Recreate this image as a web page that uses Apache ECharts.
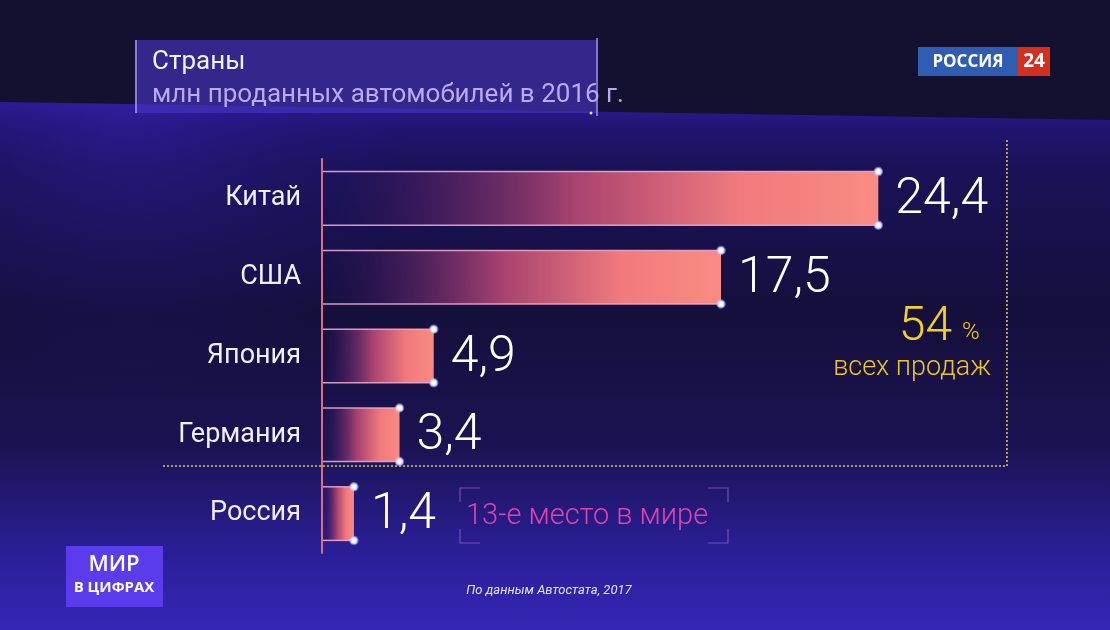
<!DOCTYPE html>
<html>
<head>
<meta charset="utf-8">
<script src="https://cdn.jsdelivr.net/npm/echarts@6/dist/echarts.min.js"></script>
<style>
html,body{margin:0;padding:0;background:#131030;}
#chart{width:1110px;height:630px;}
</style>
</head>
<body>
<div id="chart"></div>
<script>
// ---- data ----
var categories = ['Китай', 'США', 'Япония', 'Германия', 'Россия'];
var sales = [24.4, 17.5, 4.9, 3.4, 1.4];
var titleText = 'Страны';
var subtitleText = 'млн проданных автомобилей в 2016 г.';
var shareValue = '54';
var shareUnit = '%';
var shareCaption = 'всех продаж';
var russiaNote = '13-е место в мире';
var sourceText = 'По данным Автостата, 2017';

function fmt(v) { return v.toFixed(1).replace('.', ','); }

var FONT = 'Roboto, "Noto Sans", sans-serif';
var chart = echarts.init(document.getElementById('chart'));

function corner(x, y, dx, dy) {
  return {
    type: 'polyline', z: 5,
    shape: { points: [[x + dx, y], [x, y], [x, y + dy]] },
    style: { stroke: 'rgba(140,90,190,0.8)', lineWidth: 1.2, fill: null }
  };
}

var bandPts = [[0, 102], [1110, 120], [1110, 630], [0, 630]];

var option = {
  backgroundColor: '#131030',
  animation: false,
  grid: { left: 322, top: 159, width: 684, height: 394, containLabel: false },
  xAxis: { type: 'value', min: 0, max: 30, show: false },
  yAxis: {
    type: 'category', data: categories, inverse: true,
    axisLine: { show: true, lineStyle: { color: '#d8707c', width: 2 } },
    axisTick: { show: false },
    splitLine: { show: false },
    axisLabel: { color: '#f1edfc', fontSize: 27, fontFamily: FONT, margin: 21 }
  },
  graphic: { elements: [
    // background
    { type: 'polygon', z: -10, silent: true,
      shape: { points: bandPts },
      style: { fill: { type: 'linear', x: 0, y: 0, x2: 0, y2: 1, colorStops: [
        { offset: 0, color: '#2c1c94' },
        { offset: 0.05, color: '#1f1470' },
        { offset: 0.12, color: '#1a1258' },
        { offset: 0.4, color: '#150f3c' },
        { offset: 0.65, color: '#1a1352' },
        { offset: 0.85, color: '#2a1e96' },
        { offset: 1, color: '#3427b6' }
      ] } } },
    { type: 'polygon', z: -9, silent: true,
      shape: { points: bandPts },
      style: { fill: { type: 'radial', x: 0.12, y: 0.0, r: 0.55, colorStops: [
        { offset: 0, color: 'rgba(52,32,170,0.55)' },
        { offset: 0.6, color: 'rgba(40,25,140,0.2)' },
        { offset: 1, color: 'rgba(40,25,140,0)' }
      ] } } },
    // title box
    { type: 'rect', z: 1, shape: { x: 135, y: 40, width: 463, height: 73 },
      style: { fill: 'rgba(72,52,196,0.62)' } },
    { type: 'line', z: 2, shape: { x1: 136, y1: 40, x2: 136, y2: 113 },
      style: { stroke: '#8c7cdc', lineWidth: 2 } },
    { type: 'line', z: 2, shape: { x1: 597, y1: 38, x2: 597, y2: 116 },
      style: { stroke: '#9c8ce2', lineWidth: 1.5 } },
    { type: 'circle', z: 2, shape: { cx: 591, cy: 113, r: 1.5 }, style: { fill: '#ddd' } },
    { type: 'text', z: 3, style: { text: titleText, x: 152, y: 62, textVerticalAlign: 'middle',
      fill: '#f3f0ff', font: '26px ' + FONT } },
    { type: 'text', z: 3, style: { text: subtitleText, x: 152, y: 95, textVerticalAlign: 'middle',
      fill: '#b9aaf2', font: '26px ' + FONT } },
    // logo
    { type: 'rect', z: 3, shape: { x: 918, y: 47, width: 100, height: 29 }, style: { fill: '#2e5db3' } },
    { type: 'text', z: 4, style: { text: 'РОССИЯ', x: 968, y: 62, textAlign: 'center', textVerticalAlign: 'middle',
      fill: '#ffffff', font: 'bold 17px "Open Sans", ' + FONT } },
    { type: 'rect', z: 3, shape: { x: 1018, y: 47, width: 32, height: 29 }, style: { fill: '#d5301d' } },
    { type: 'text', z: 4, style: { text: '24', x: 1034, y: 62, textAlign: 'center', textVerticalAlign: 'middle',
      fill: '#ffffff', font: 'bold 19px "Open Sans", ' + FONT } },
    // dotted frame
    { type: 'line', z: 1, shape: { x1: 163, y1: 466, x2: 1007, y2: 466 },
      style: { stroke: '#b99a52', lineWidth: 2, lineDash: [2, 2] } },
    { type: 'line', z: 1, shape: { x1: 1007, y1: 140, x2: 1007, y2: 466 },
      style: { stroke: '#b99a52', lineWidth: 2, lineDash: [2, 2] } },
    // share annotation
    { type: 'text', z: 4, style: { text: shareValue, x: 952, y: 328, textAlign: 'right', textVerticalAlign: 'middle',
      fill: '#f3cf1f', font: '300 48px ' + FONT } },
    { type: 'text', z: 4, style: { text: shareUnit, x: 962, y: 333, textAlign: 'left', textVerticalAlign: 'middle',
      fill: '#f3cf1f', font: '300 24px ' + FONT } },
    { type: 'text', z: 4, style: { text: shareCaption, x: 912, y: 368, textAlign: 'center', textVerticalAlign: 'middle',
      fill: '#ecc622', font: '300 27px ' + FONT } },
    // russia note
    corner(460, 488, 20, 14), corner(460, 543, 20, -14),
    corner(728, 488, -20, 14), corner(728, 543, -20, -14),
    { type: 'text', z: 4, style: { text: russiaNote, x: 466, y: 517, textAlign: 'left', textVerticalAlign: 'middle',
      fill: '#e242ac', font: '300 29px ' + FONT } },
    // program badge
    { type: 'rect', z: 3, shape: { x: 66, y: 546, width: 97, height: 61 }, style: { fill: '#5a3cec' } },
    { type: 'text', z: 4, style: { text: 'МИР', x: 114, y: 565, textAlign: 'center', textVerticalAlign: 'middle',
      fill: '#ffffff', font: '600 22px "Open Sans", ' + FONT } },
    { type: 'text', z: 4, style: { text: 'В ЦИФРАХ', x: 114, y: 588, textAlign: 'center', textVerticalAlign: 'middle',
      fill: '#ffffff', font: 'bold 15px "Open Sans", ' + FONT } },
    // source
    { type: 'text', z: 4, style: { text: sourceText, x: 549, y: 591, textAlign: 'center', textVerticalAlign: 'middle',
      fill: '#e6e2fb', font: 'italic 13px ' + FONT } }
  ] },
  series: [{
    type: 'custom',
    coordinateSystem: 'cartesian2d',
    encode: { x: 0, y: 1 },
    data: sales.map(function (v, i) { return [v, i]; }),
    renderItem: function (params, api) {
      var v = api.value(0), c = api.value(1);
      var p0 = api.coord([0, c]);
      var p1 = api.coord([v, c]);
      var band = api.size([0, 1])[1];
      var h = band * 0.68;
      var x0 = p0[0] + 1, x1 = p1[0], yc = p0[1];
      var yT = yc - h / 2, yB = yc + h / 2;
      var edge = { stroke: 'rgba(236,168,204,0.9)', lineWidth: 1.5 };
      var dot = { fill: '#ffffff', stroke: 'rgba(190,180,255,0.55)', lineWidth: 2.5 };
      return {
        type: 'group',
        children: [
          { type: 'rect', shape: { x: x0, y: yT, width: x1 - x0, height: h },
            style: { fill: { type: 'linear', x: 0, y: 0, x2: 1, y2: 0, colorStops: [
              { offset: 0, color: 'rgba(40,20,80,0)' },
              { offset: 0.15, color: 'rgba(70,28,95,0.55)' },
              { offset: 0.45, color: '#a8426f' },
              { offset: 0.75, color: '#f07a7d' },
              { offset: 1, color: '#fa8b82' }
            ] } } },
          { type: 'line', shape: { x1: x0, y1: yT, x2: x1, y2: yT }, style: edge },
          { type: 'line', shape: { x1: x0, y1: yB, x2: x1, y2: yB }, style: edge },
          { type: 'circle', shape: { cx: x1, cy: yT, r: 3.5 }, style: dot },
          { type: 'circle', shape: { cx: x1, cy: yB, r: 3.5 }, style: dot },
          { type: 'text', style: { text: fmt(v), x: x1 + 17, y: yc + 2, textAlign: 'left', textVerticalAlign: 'middle',
            fill: '#ffffff', font: '300 50px ' + FONT } }
        ]
      };
    }
  }]
};
chart.setOption(option);
</script>
</body>
</html>
